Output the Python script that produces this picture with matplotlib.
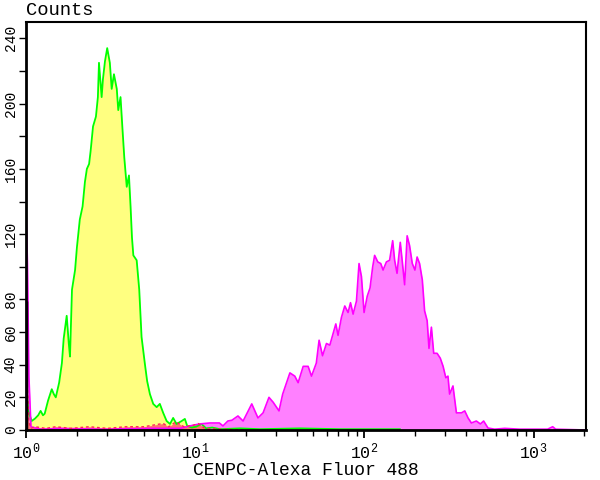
import numpy as np
import matplotlib
matplotlib.use("Agg")
import matplotlib.pyplot as plt
from matplotlib.ticker import FixedLocator, FixedFormatter, LogLocator, NullFormatter

plt.rcParams["font.family"] = ["Liberation Mono", "DejaVu Sans Mono"]
plt.rcParams["mathtext.fontset"] = "custom"
plt.rcParams["mathtext.rm"] = "Liberation Mono"

# negative control (yellow fill, green outline): fluorescence intensity vs counts
ctrl_fl = [1.00, 1.03, 1.08, 1.13, 1.18, 1.22, 1.26, 1.29, 1.35, 1.42, 1.46, 1.50,
           1.57, 1.63, 1.67, 1.74, 1.79, 1.82, 1.87, 1.95, 2.00, 2.08, 2.16, 2.23,
           2.29, 2.36, 2.41, 2.49, 2.59, 2.66, 2.70, 2.80, 2.85, 2.93, 3.02, 3.13,
           3.21, 3.31, 3.44, 3.51, 3.62, 3.72, 3.81, 3.94, 4.06, 4.15, 4.23, 4.31,
           4.51, 4.67, 4.82, 5.05, 5.20, 5.40, 5.65, 5.92, 6.18, 6.47, 6.78, 7.10,
           7.41, 7.76, 8.32, 8.69, 8.97, 9.57, 10.1, 10.9, 11.6, 12.6, 14.0, 18.4,
           24.1, 41.5, 71.6, 162]
ctrl_counts = [28, 12, 5.5, 7, 9, 11.7, 9, 10, 18, 25, 22, 20,
               29, 41, 56, 70, 53, 45, 86, 98, 112, 129, 137, 152,
               160, 163, 171, 186, 192, 204, 225, 204, 215, 226, 234, 225,
               209, 218, 209, 196, 204, 184, 167, 149, 156, 137, 118, 107,
               104, 86, 57, 40, 30, 22, 16, 14, 16, 10.5, 5.5, 3.7,
               7.4, 3.7, 5.5, 6.8, 2.5, 1.5, 2, 3.7, 1, 1.5, 0.5, 1,
               0.5, 1, 0.5, 0.5]

# CENPC stained sample (magenta)
cenpc_fl = [1.00, 1.02, 1.04, 1.07, 1.21, 1.59, 2.73, 5.40, 8.13, 9.29, 10.6, 12.2,
            13.9, 14.6, 15.6, 16.5, 17.9, 19.2, 21.6, 23.5, 25.2, 27.3, 28.9, 31.3,
            32.9, 36.3, 38.8, 40.6, 43.5, 46.5, 48.7, 52.0, 54.0, 56.6, 59.7, 62.5,
            65.3, 67.8, 69.9, 73.2, 76.6, 80.1, 82.8, 85.8, 89.8, 93.0, 96.1, 99.6,
            104, 108, 112, 115, 120, 125, 129, 135, 141, 147, 151, 156,
            163, 168, 173, 179, 185, 192, 199, 205, 212, 220, 227, 235,
            241, 249, 257, 269, 281, 292, 303, 312, 319, 334, 350, 375,
            392, 410, 429, 459, 485, 507, 538, 589, 675, 828, 1211, 1297,
            1351, 2032]
cenpc_counts = [137, 102, 33, 2, 0.5, 1, 0.5, 1, 1, 2.5, 3.7, 4.3,
                4.3, 2.5, 5.5, 6, 8.6, 5.5, 16, 7.4, 10.5, 20, 17, 11.7,
                22, 35, 33, 29, 39, 39, 33, 41, 55, 45.5, 53, 52,
                59, 65, 58, 69, 76, 72, 78, 71, 79, 102, 94, 72,
                82, 87, 100, 107, 103, 102, 98, 103, 104, 116, 104, 96,
                115, 102, 89, 119, 113, 102, 98, 106, 102, 92, 73, 67,
                50, 63, 47, 47, 44, 39, 32, 33, 22, 27, 10.5, 10.5,
                11.7, 7.4, 4.3, 5.5, 3.7, 5.5, 1.2, 0.5, 1, 0.5, 0.5, 2,
                0.5, 0]

# blank / isotype (red, near baseline)
blank_fl = [1.00, 1.02, 1.04, 1.07, 1.13, 1.31, 1.50, 1.84, 2.36, 3.03, 3.89, 4.97,
            5.66, 6.47, 6.99, 7.69, 8.58, 9.82, 10.4, 11.4, 14.1, 20.0]
blank_counts = [79, 26, 5, 1, 2, 1, 2, 1, 2, 1, 2, 2,
                3, 4, 2, 5, 2, 3, 4, 1, 0.5, 0]

count_ticks = [0, 20, 40, 60, 80, 100, 120, 140, 160, 180, 200, 220, 240]
count_tick_labels = ["0", "20", "40", "60", "80", "", "120", "", "160", "", "200", "", "240"]

fig = plt.figure(figsize=(6, 4.8), dpi=100)
ax = fig.add_axes([26 / 600, 50 / 480, 560 / 600, 408 / 480])

ax.fill_between(ctrl_fl, ctrl_counts, color="#FFFF80", lw=0)
ax.plot(ctrl_fl, ctrl_counts, color="#00FF00", lw=1.3)
ax.fill_between(cenpc_fl, cenpc_counts, color="#FF80FF", lw=0)
ax.plot(cenpc_fl, cenpc_counts, color="#FF00FF", lw=1.2)
ax.fill_between(blank_fl, blank_counts, color="#FF7070", lw=0)
ax.plot(blank_fl, blank_counts, color="#FF2060", lw=1.0, ls=(0, (2, 2)))
ax.plot([1.0, 1.0], [0, blank_counts[0]], color="black", lw=2.5, solid_capstyle="butt")

ax.set_xscale("log")
ax.set_xlim(1, 10 ** 3.31)
ax.set_ylim(0, 250)

ax.xaxis.set_major_locator(LogLocator(base=10, numticks=10))
ax.xaxis.set_minor_locator(LogLocator(base=10, subs=np.arange(2, 10), numticks=20))
ax.xaxis.set_minor_formatter(NullFormatter())
ax.yaxis.set_major_locator(FixedLocator(count_ticks))
ax.yaxis.set_major_formatter(FixedFormatter(count_tick_labels))

ax.tick_params(axis="x", which="major", direction="out", length=6, width=1.3,
               labelsize=12, pad=2)
ax.tick_params(axis="x", which="minor", direction="out", length=4, width=1.0)
ax.tick_params(axis="y", which="major", direction="out", length=5, width=1.0,
               labelsize=10.5, pad=1)
for lbl in ax.get_yticklabels():
    lbl.set_rotation(90)
    lbl.set_va("center")

for side in ["left", "bottom"]:
    ax.spines[side].set_linewidth(2.0)
for side in ["top", "right"]:
    ax.spines[side].set_linewidth(1.5)

ax.set_xlabel("CENPC-Alexa Fluor 488", fontsize=13, labelpad=0)
fig.text(26 / 600, 1 - 2 / 480, "Counts", fontsize=13.5, ha="left", va="top")

fig.savefig("out.png", dpi=100)
plt.close(fig)
